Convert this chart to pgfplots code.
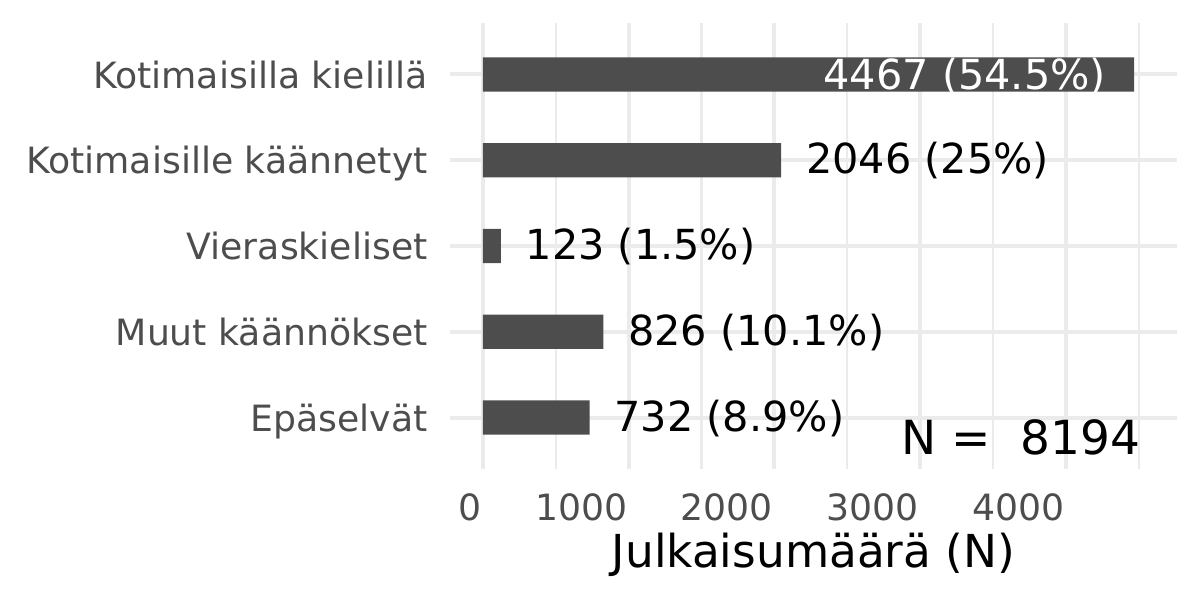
\documentclass[border=0pt]{standalone}
\usepackage{pgfplots}
\pgfplotsset{compat=1.18}
\usepackage{fontspec}
\setmainfont{DejaVu Sans}
\definecolor{barc}{HTML}{4D4D4D}
\definecolor{gridc}{HTML}{EBEBEB}
\definecolor{tickc}{HTML}{4D4D4D}
\newcommand{\tickfont}{\fontsize{18.1bp}{21bp}\selectfont}
\newcommand{\labfont}{\fontsize{20.7bp}{24bp}\selectfont}
\newcommand{\titlefont}{\fontsize{22.7bp}{26bp}\selectfont}
\newcommand{\nfont}{\fontsize{23.5bp}{28bp}\selectfont}
\begin{document}
\begin{tikzpicture}
\path[use as bounding box] (0,0) rectangle (600bp,300bp);
\begin{axis}[
  at={(225bp,65.5bp)}, anchor=south west,
  scale only axis, width=363.5bp, height=223bp,
  xmin=-226, xmax=4762, ymin=0.4, ymax=5.6,
  axis line style={draw=none},
  major tick length=0pt, minor tick length=0pt,
  xtick={0,1000,2000,3000,4000},
  xticklabels={0,1000,2000,3000,4000},
  minor xtick={500,1500,2500,3500,4500},
  ytick={1,2,3,4,5},
  yticklabels={Epäselvät,Muut käännökset,Vieraskieliset,Kotimaisille käännetyt,Kotimaisilla kielillä},
  xmajorgrids, xminorgrids, ymajorgrids,
  major grid style={draw=gridc, line width=2bp},
  minor grid style={draw=gridc, line width=1.1bp},
  xticklabel style={anchor=north east, inner sep=0pt, yshift=-11.9bp, xshift=-0.5bp, font=\tickfont, text=tickc},
  yticklabel style={anchor=base east, inner sep=0pt, xshift=-11bp, yshift=-6.8bp, font=\tickfont, text=tickc},
  xlabel={Julkaisumäärä (N)},
  xlabel style={at={(axis description cs:0.5,0)}, anchor=base, yshift=-49.15bp, inner sep=0pt, font=\titlefont},
  clip=false,
]
\addplot[xbar, bar width=0.4, fill=barc, draw=none]
  coordinates {(732,1) (826,2) (123,3) (2046,4) (4467,5)};
\node[anchor=base west, inner sep=0pt, xshift=12.3bp, yshift=-6.8bp, font=\labfont] at (axis cs:732,1) {732 (8.9\%)};
\node[anchor=base west, inner sep=0pt, xshift=12.3bp, yshift=-6.8bp, font=\labfont] at (axis cs:826,2) {826 (10.1\%)};
\node[anchor=base west, inner sep=0pt, xshift=12.3bp, yshift=-6.8bp, font=\labfont] at (axis cs:123,3) {123 (1.5\%)};
\node[anchor=base west, inner sep=0pt, xshift=12.3bp, yshift=-6.8bp, font=\labfont] at (axis cs:2046,4) {2046 (25\%)};
\node[anchor=base east, inner sep=0pt, xshift=-13.8bp, yshift=-7.4bp, font=\labfont, text=white] at (axis cs:4467,5) {4467 (54.5\%)};
\node[anchor=base east, inner sep=0pt, font=\nfont] at (axis cs:4514,0.574) {N =\ \ 8194};
\end{axis}
\end{tikzpicture}
\end{document}
